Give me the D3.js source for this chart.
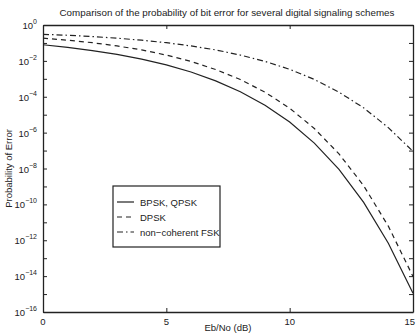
<!DOCTYPE html>
<html>
<head>
<meta charset="utf-8">
<script src="https://cdn.jsdelivr.net/npm/d3@7"></script>
<style>
  body { margin: 0; background: #fff; }
  svg { display: block; font-family: 'Liberation Sans', Arial, sans-serif; }
  .axis path, .axis line { stroke: #222; }
</style>
</head>
<body>
<div id="chart"></div>
<script>
// values, one point per dB
const ebno     = [0, 1, 2, 3, 4, 5, 6, 7, 8, 9, 10, 11, 12, 13, 14, 15]
const bpsk     = [0.079, 0.056, 0.0375, 0.023, 0.0125, 0.006, 0.0024, 7.7e-4, 1.9e-4, 3.4e-5, 3.9e-6, 2.6e-7, 9.0e-9, 1.3e-10, 6.8e-13, 1.1e-15]
const dpsk     = [0.184, 0.142, 0.103, 0.068, 0.041, 0.021, 0.0093, 0.0033, 9.1e-4, 1.8e-4, 2.3e-5, 1.7e-6, 6.5e-8, 1.1e-9, 6.1e-12, 9.5e-15]
const fsk      = [0.303, 0.267, 0.227, 0.184, 0.142, 0.103, 0.068, 0.041, 0.021, 0.0094, 0.0034, 9.2e-4, 1.8e-4, 2.4e-5, 1.9e-6, 9.0e-8]
const seriesNames = ['BPSK, QPSK', 'DPSK', 'non\u2212coherent FSK']
const xTicks   = [0, 5, 10, 15]
const yLabelExps = [0, -2, -4, -6, -8, -10, -12, -14, -16]

const width = 416, height = 333
const margin = {left: 43, right: 3, top: 25, bottom: 21}
const plotW = width - margin.left - margin.right
const plotH = height - margin.top - margin.bottom
const ink = '#222'

var svg = d3.select('#chart').append('svg').attr('width', width).attr('height', height)
var g = svg.append('g').attr('transform', 'translate(' + margin.left + ',' + margin.top + ')')

var x = d3.scaleLinear().domain([0, 15]).range([0, plotW])
var y = d3.scaleLog().domain([1e-16, 1]).range([plotH, 0])
var decades = d3.range(0, 17).map(function(e) { return Math.pow(10, -e) })

// box with inward ticks on all four sides
g.append('g').attr('class', 'axis').call(d3.axisLeft(y).tickValues(decades).tickSize(-4).tickSizeOuter(0).tickFormat(''))
g.append('g').attr('class', 'axis').attr('transform', 'translate(' + plotW + ',0)')
  .call(d3.axisRight(y).tickValues(decades).tickSize(-4).tickSizeOuter(0).tickFormat(''))
g.append('g').attr('class', 'axis').attr('transform', 'translate(0,' + plotH + ')')
  .call(d3.axisBottom(x).tickValues(xTicks).tickSize(-4).tickSizeOuter(0).tickFormat(''))
g.append('g').attr('class', 'axis').call(d3.axisTop(x).tickValues(xTicks).tickSize(-4).tickSizeOuter(0).tickFormat(''))
g.selectAll('.axis path').attr('stroke-width', 1.3)

// y tick labels 10^n
yLabelExps.forEach(function(e) {
  var t = g.append('text').attr('x', -6).attr('y', y(Math.pow(10, e)) + 4)
    .attr('text-anchor', 'end').attr('fill', ink).style('font-size', '9.5px')
  t.append('tspan').text('10')
  t.append('tspan').attr('dy', -5).style('font-size', '7px').text(e == 0 ? '0' : '\u2212' + (-e))
})

// x tick labels (last one kept inside the window)
g.selectAll('.xlab').data(xTicks).enter().append('text')
  .attr('x', function(d, i) { return i == xTicks.length - 1 ? x(d) + 2 : x(d) }).attr('y', plotH + 13)
  .attr('text-anchor', function(d, i) { return i == xTicks.length - 1 ? 'end' : 'middle' })
  .attr('fill', ink).style('font-size', '9.5px')
  .text(function(d) { return d })

// titles
svg.append('text').attr('x', 227).attr('y', 16).attr('text-anchor', 'middle').attr('fill', ink)
  .style('font-size', '9.8px').text('Comparison of the probability of bit error for several digital signaling schemes')
svg.append('text').attr('x', 228).attr('y', 331).attr('text-anchor', 'middle').attr('fill', ink)
  .style('font-size', '9.5px').text('Eb/No  (dB)')
svg.append('text').attr('transform', 'translate(12,' + (margin.top + plotH / 2) + ') rotate(-90)')
  .attr('text-anchor', 'middle').attr('fill', ink).style('font-size', '9.5px').text('Probability of Error')

// curves
var allData = [bpsk, dpsk, fsk]
var dashes = [null, '5,4', '6,3,1.5,3']
var line = d3.line().x(function(d) { return x(d[0]) }).y(function(d) { return y(d[1]) })
allData.forEach(function(vals, i) {
  g.append('path')
    .datum(ebno.map(function(e, j) { return [e, vals[j]] }))
    .attr('fill', 'none').attr('stroke', ink).attr('stroke-width', 1.2)
    .attr('stroke-dasharray', dashes[i])
    .attr('d', line)
})

// legend
var lg = svg.append('g').attr('transform', 'translate(113,186)')
lg.append('rect').attr('width', 107).attr('height', 61).attr('fill', '#fff').attr('stroke', ink).attr('stroke-width', 1.2)
seriesNames.forEach(function(name, i) {
  var ly = 16 + i * 15
  lg.append('line').attr('x1', 4).attr('x2', 21).attr('y1', ly).attr('y2', ly)
    .attr('stroke', ink).attr('stroke-width', 1.2).attr('stroke-dasharray', dashes[i])
  lg.append('text').attr('x', 27).attr('y', ly + 3.5).attr('fill', ink).style('font-size', '9.5px').text(name)
})
</script>
</body>
</html>
